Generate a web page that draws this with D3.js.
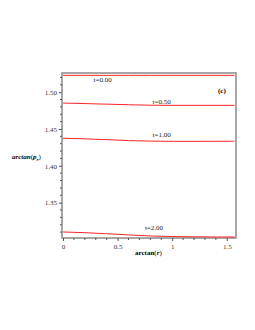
<!DOCTYPE html>
<html>
<head>
<meta charset="utf-8">
<script src="https://cdn.jsdelivr.net/npm/d3@7"></script>
<style>
  body { margin: 0; background: #fff; }
  svg text { font-family: "Liberation Serif", "Times New Roman", serif !important; }
</style>
</head>
<body>
<div id="chart"></div>
<script>
// values
var xs = [0, 0.2, 0.4, 0.6, 0.8, 1.0, 1.2, 1.4, Math.PI / 2];
var curveT000 = [1.5228, 1.5228, 1.5228, 1.5228, 1.5228, 1.5228, 1.5228, 1.5228, 1.5228];
var curveT050 = [1.4852, 1.4845, 1.4837, 1.4829, 1.4823, 1.4821, 1.4821, 1.4821, 1.4821];
var curveT100 = [1.4375, 1.4366, 1.4355, 1.4343, 1.4335, 1.4332, 1.4332, 1.4333, 1.4334];
var curveT200 = [1.3102, 1.3092, 1.3078, 1.3062, 1.3048, 1.3040, 1.3036, 1.3034, 1.3034];
var curveLabels = ["t=0.00", "t=0.50", "t=1.00", "t=2.00"];
var labelX = [0.28, 0.82, 0.82, 0.75];
var labelV = [1.5137, 1.4835, 1.4390, 1.3123];
var xTicks = [0, 0.5, 1, 1.5];
var yTicks = [1.35, 1.40, 1.45, 1.50];

var width = 255, height = 330;
var svg = d3.select("#chart").append("svg")
    .attr("width", width)
    .attr("height", height)
    .attr("font-family", "'Liberation Serif', serif");

var x = d3.scaleLinear().domain([0, Math.PI / 2]).range([63, 234.5]);
var y = d3.scaleLinear().domain([1.302, 1.526]).range([238, 73]);

var series = [curveT000, curveT050, curveT100, curveT200];

// frame
svg.append("rect")
    .attr("x", 62).attr("y", 73)
    .attr("width", 236 - 62).attr("height", 238 - 73)
    .attr("fill", "none")
    .attr("stroke", "#8a8a8a")
    .attr("stroke-width", 1.5);

// curves
var line = d3.line()
    .x(function (d, i) { return x(xs[i]); })
    .y(function (d) { return y(d); })
    .curve(d3.curveMonotoneX);

svg.append("g").selectAll("path")
    .data(series)
    .enter()
    .append("path")
    .attr("d", line)
    .attr("fill", "none")
    .attr("stroke", "#ff2424")
    .attr("stroke-width", 1);

// y axis
var gy = svg.append("g")
    .attr("transform", "translate(62,0)")
    .call(d3.axisLeft(y)
        .tickValues(yTicks)
        .tickFormat(d3.format(".2f"))
        .tickSize(3)
        .tickPadding(2));
gy.select(".domain").remove();

var yMinor = d3.range(1.31, 1.525, 0.01).filter(function (v) {
    return yTicks.every(function (t) { return Math.abs(t - v) > 1e-6; });
});
svg.append("g").selectAll("line")
    .data(yMinor)
    .enter().append("line")
    .attr("x1", 60).attr("x2", 62)
    .attr("y1", function (d) { return y(d); })
    .attr("y2", function (d) { return y(d); })
    .attr("stroke", "#555");

// x axis
var gx = svg.append("g")
    .attr("transform", "translate(0,238)")
    .call(d3.axisBottom(x)
        .tickValues(xTicks)
        .tickFormat(function (d) { return d; })
        .tickSize(3)
        .tickPadding(3));
gx.select(".domain").remove();

var xMinor = d3.range(0.1, 1.56, 0.1).filter(function (v) {
    return xTicks.every(function (t) { return Math.abs(t - v) > 1e-6; });
});
svg.append("g").selectAll("line")
    .data(xMinor)
    .enter().append("line")
    .attr("x1", function (d) { return x(d); })
    .attr("x2", function (d) { return x(d); })
    .attr("y1", 238).attr("y2", 240)
    .attr("stroke", "#555");

svg.selectAll(".tick line").attr("stroke", "#555");
svg.selectAll(".tick text")
    .attr("font-family", "'Liberation Serif', serif")
    .attr("font-size", 7)
    .attr("fill", "#333");

// curve labels
svg.append("g").selectAll("text")
    .data(curveLabels)
    .enter().append("text")
    .attr("x", function (d, i) { return x(labelX[i]); })
    .attr("y", function (d, i) { return y(labelV[i]); })
    .attr("font-size", 7)
    .attr("fill", "#222")
    .text(function (d) { return d; });

// panel tag
svg.append("text")
    .attr("x", 218).attr("y", 93)
    .attr("font-size", 7)
    .attr("font-weight", "bold")
    .text("(c)");

// y axis title
var yt = svg.append("text")
    .attr("x", 12).attr("y", 159)
    .attr("font-size", 7)
    .attr("font-weight", "bold")
    .attr("font-style", "italic");
yt.append("tspan").text("arctan");
yt.append("tspan").attr("font-style", "normal").attr("font-weight", "normal").text("(");
yt.append("tspan").text("p");
yt.append("tspan").attr("dy", 1.5).attr("font-size", 5).text("r");
yt.append("tspan").attr("dy", -1.5).attr("font-style", "normal").attr("font-weight", "normal").text(")");

// x axis title
var xt = svg.append("text")
    .attr("x", 135).attr("y", 255)
    .attr("font-size", 7)
    .attr("font-weight", "bold");
xt.append("tspan").text("arctan");
xt.append("tspan").attr("font-weight", "normal").text("(");
xt.append("tspan").attr("font-style", "italic").text("r");
xt.append("tspan").attr("font-weight", "normal").text(")");
</script>
</body>
</html>
